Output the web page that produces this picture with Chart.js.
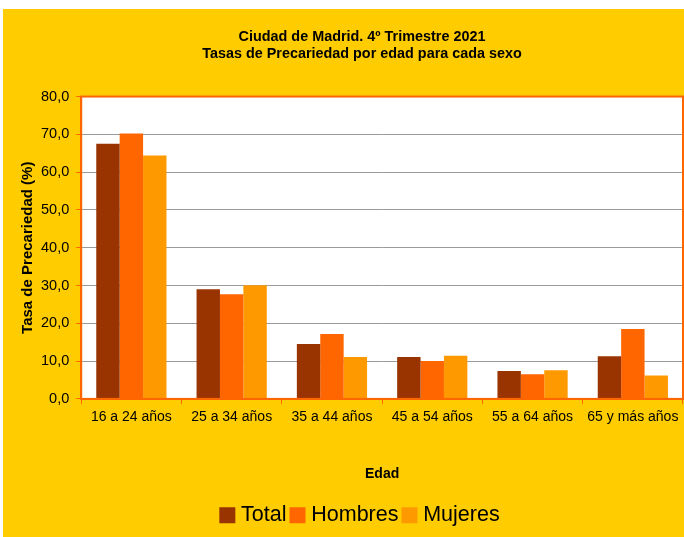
<!DOCTYPE html>
<html>
<head>
<meta charset="utf-8">
<script src="https://cdn.jsdelivr.net/npm/chart.js@4.4.0/dist/chart.umd.min.js"></script>
<style>
  html, body { margin: 0; padding: 0; background: #ffffff; }
  #wrap { position: absolute; left: 3px; top: 9px; width: 681px; height: 528px; background: #FFCC00; }
</style>
</head>
<body>
<div id="wrap"><canvas id="chart"></canvas></div>
<script>
// Data
const categories = ['16 a 24 años', '25 a 34 años', '35 a 44 años', '45 a 54 años', '55 a 64 años', '65 y más años'];
const total    = [67.5, 29.0, 14.5, 11.1, 7.4, 11.3];
const hombres  = [70.2, 27.7, 17.2, 10.0, 6.5, 18.5];
const mujeres  = [64.4, 30.1, 11.1, 11.4, 7.6, 6.2];
const titleLines = ['Ciudad de Madrid. 4º Trimestre 2021', 'Tasas de Precariedad por edad para cada sexo'];

Chart.defaults.font.family = "'Liberation Sans', Arial, sans-serif";
Chart.defaults.color = '#000000';

// white plot area + orange frame
const plotFrame = {
    id: 'plotFrame',
    beforeDraw(chart) {
        const { ctx, chartArea: a } = chart;
        ctx.save();
        ctx.fillStyle = '#ffffff';
        ctx.fillRect(a.left, a.top, a.right - a.left, a.bottom - a.top);
        ctx.restore();
    },
    afterDatasetsDraw(chart) {
        const { ctx, chartArea: a } = chart;
        ctx.save();
        ctx.strokeStyle = '#FF6600';
        ctx.lineWidth = 2;
        ctx.strokeRect(a.left, a.top, a.right - a.left, a.bottom - a.top);
        ctx.restore();
    }
};

const ctx = document.getElementById('chart').getContext('2d');
new Chart(ctx, {
    type: 'bar',
    data: {
        labels: categories,
        datasets: [
            { label: 'Total', data: total, backgroundColor: '#993300' },
            { label: 'Hombres', data: hombres, backgroundColor: '#FF6600' },
            { label: 'Mujeres', data: mujeres, backgroundColor: '#FF9900' }
        ]
    },
    options: {
        responsive: true,
        maintainAspectRatio: false,
        animation: false,
        // left padding pushes the legend centre right; the y title is pulled back with negative padding
        layout: { padding: { left: 38, right: 1, top: 19, bottom: 1 } },
        datasets: { bar: { categoryPercentage: 0.70, barPercentage: 1.0 } },
        plugins: {
            title: {
                display: true,
                text: titleLines,
                font: { size: 14.4, weight: 'bold' },
                lineHeight: 1.25,
                padding: { top: 0, bottom: 34 }
            },
            legend: {
                position: 'bottom',
                labels: {
                    font: { size: 21.5 },
                    usePointStyle: true,
                    pointStyle: 'rect',
                    boxWidth: 6,
                    boxHeight: 16,
                    padding: 8,
                    color: '#000000'
                }
            },
            tooltip: { enabled: false }
        },
        scales: {
            y: {
                min: 0,
                max: 80,
                ticks: {
                    stepSize: 10,
                    font: { size: 14.5 },
                    padding: 7,
                    callback: v => v.toFixed(1).replace('.', ',')
                },
                grid: { color: '#9a9a9a', tickColor: '#FF6600', tickLength: 5 },
                border: { color: '#FF6600', width: 2 },
                title: {
                    display: true,
                    text: 'Tasa de Precariedad (%)',
                    font: { size: 15, weight: 'bold' },
                    lineHeight: 1.2,
                    padding: { top: -22, bottom: -3 }
                }
            },
            x: {
                ticks: { font: { size: 14 }, padding: 5 },
                grid: { offset: true, drawOnChartArea: false, tickColor: '#FF6600', tickLength: 5 },
                border: { color: '#FF6600', width: 2 },
                title: {
                    display: true,
                    text: 'Edad',
                    font: { size: 14, weight: 'bold' },
                    padding: { top: 35, bottom: 14 }
                }
            }
        }
    },
    plugins: [plotFrame]
});
</script>
</body>
</html>
